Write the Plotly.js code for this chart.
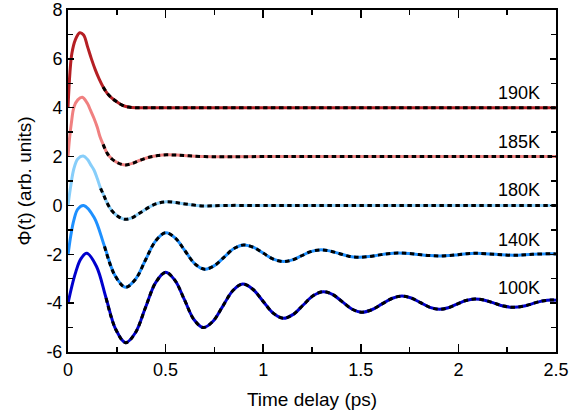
<!DOCTYPE html>
<html>
<head>
<meta charset="utf-8">
<script src="https://cdn.plot.ly/plotly-3.0.1.min.js"></script>
<style>html,body{margin:0;padding:0;background:#fff;}#chart{width:570px;height:413px;}</style>
</head>
<body>
<div id="chart"></div>
<script>
// ---- data ----
const labels = ["190K", "185K", "180K", "140K", "100K"];
const colors = ["#B51F24", "#F08080", "#87CEFA", "#1E90FF", "#0000CD"];

const t190 = [0, 0.01, 0.02, 0.037, 0.06, 0.08, 0.1, 0.12, 0.14, 0.16, 0.18, 0.2, 0.225, 0.25, 0.277, 0.31, 0.35, 0.4, 0.5, 0.7, 1.0, 1.5, 2.0, 2.5];
const y190 = [4.0, 5.45, 6.23, 6.77, 7.07, 6.98, 6.5, 6.0, 5.55, 5.17, 4.85, 4.6, 4.39, 4.24, 4.11, 4.03, 4.0, 4.0, 4.0, 4.0, 4.0, 4.0, 4.0, 4.0];

const t185 = [0, 0.008, 0.017, 0.031, 0.05, 0.073, 0.099, 0.115, 0.133, 0.15, 0.164, 0.18, 0.201, 0.225, 0.253, 0.275, 0.296, 0.33, 0.37, 0.42, 0.46, 0.506, 0.56, 0.62, 0.7, 0.8, 1.0, 1.5, 2.0, 2.5];
const y185 = [2.0, 2.75, 3.36, 4.04, 4.32, 4.43, 4.18, 3.9, 3.57, 3.2, 2.81, 2.5, 2.13, 1.9, 1.75, 1.68, 1.66, 1.72, 1.85, 1.98, 2.04, 2.07, 2.06, 2.03, 2.0, 1.99, 2.0, 2.0, 2.0, 2.0];

const t180 = [0, 0.015, 0.03, 0.05, 0.078, 0.1, 0.115, 0.133, 0.15, 0.167, 0.185, 0.201, 0.225, 0.253, 0.275, 0.296, 0.33, 0.37, 0.42, 0.46, 0.503, 0.55, 0.6, 0.69, 0.8, 1.0, 1.5, 2.0, 2.5];
const y180 = [0.0, 0.85, 1.5, 1.9, 2.02, 1.88, 1.68, 1.45, 1.1, 0.70, 0.38, 0.09, -0.22, -0.43, -0.53, -0.57, -0.5, -0.3, -0.05, 0.09, 0.15, 0.12, 0.06, -0.02, 0.0, 0.0, 0.0, 0.0, 0.0];

const t140 = [0, 0.015, 0.03, 0.05, 0.08, 0.134, 0.187, 0.24, 0.294, 0.346, 0.397, 0.449, 0.5, 0.55, 0.6, 0.65, 0.7, 0.75, 0.8, 0.85, 0.9, 0.951, 1.002, 1.052, 1.103, 1.15, 1.197, 1.243, 1.29, 1.339, 1.389, 1.438, 1.487, 1.538, 1.589, 1.639, 1.69, 1.744, 1.798, 1.852, 1.906, 1.952, 1.998, 2.044, 2.09, 2.19, 2.28, 2.38, 2.48, 2.5];
const y140 = [-2.03, -1.2, -0.6, -0.15, 0.0, -0.49, -1.675, -2.86, -3.35, -3.02, -2.235, -1.45, -1.12, -1.34, -1.865, -2.39, -2.61, -2.465, -2.115, -1.765, -1.62, -1.72, -1.96, -2.2, -2.3, -2.23, -2.06, -1.89, -1.82, -1.86, -1.97, -2.08, -2.12, -2.095, -2.035, -1.975, -1.95, -1.968, -2.01, -2.052, -2.07, -2.054, -2.015, -1.976, -1.96, -2.0, -2.04, -2.0, -1.98, -1.99];

const t100 = [0, 0.02, 0.04, 0.065, 0.096, 0.146, 0.195, 0.245, 0.295, 0.346, 0.397, 0.449, 0.5, 0.548, 0.597, 0.645, 0.693, 0.743, 0.794, 0.845, 0.895, 0.947, 0.999, 1.051, 1.103, 1.154, 1.205, 1.257, 1.308, 1.357, 1.406, 1.456, 1.505, 1.556, 1.607, 1.659, 1.71, 1.758, 1.806, 1.854, 1.902, 1.948, 1.993, 2.039, 2.085, 2.134, 2.183, 2.231, 2.28, 2.33, 2.38, 2.43, 2.48, 2.5];
const y100 = [-4.0, -3.3, -2.72, -2.2, -1.96, -2.5, -3.79, -5.08, -5.62, -5.2, -4.18, -3.16, -2.74, -3.07, -3.87, -4.67, -5.0, -4.74, -4.11, -3.48, -3.22, -3.43, -3.92, -4.41, -4.62, -4.46, -4.075, -3.69, -3.53, -3.65, -3.95, -4.25, -4.37, -4.27, -4.04, -3.81, -3.71, -3.79, -3.98, -4.17, -4.25, -4.19, -4.04, -3.89, -3.83, -3.88, -4.0, -4.12, -4.17, -4.13, -4.02, -3.91, -3.87, -3.88];

const labelPos = [4.59, 2.61, 0.63, -1.41, -3.39];

const xTickVals = [0, 0.5, 1, 1.5, 2, 2.5];
const xTickText = ["0", "0.5", "1", "1.5", "2", "2.5"];
const xMinorVals = [0.25, 0.75, 1.25, 1.75, 2.25];
const yTickVals = [-6, -4, -2, 0, 2, 4, 6, 8];
const yTickText = ["-6", "-4", "-2", "0", "2", "4", "6", "8"];
const yMinorVals = [-5, -3, -1, 1, 3, 5, 7];
const fitStart = 0.165;

// ---- build traces ----
const series = [[t190, y190], [t185, y185], [t180, y180], [t140, y140], [t100, y100]];
const traces = [];
series.forEach((s, i) => {
  traces.push({x: s[0], y: s[1], mode: 'lines', type: 'scatter',
    line: {color: colors[i], width: 3, shape: 'spline', smoothing: 1}, hoverinfo: 'skip'});
});
series.forEach((s, i) => {
  const fx = [], fy = [];
  s[0].forEach((v, k) => { if (v >= fitStart) { fx.push(v); fy.push(s[1][k]); } });
  traces.push({x: fx, y: fy, mode: 'lines', type: 'scatter',
    line: {color: '#000', width: 3, dash: '4.5px,3.5px', shape: 'spline', smoothing: 1}, hoverinfo: 'skip'});
});

const font = {family: 'Liberation Sans, Arial, sans-serif', size: 18, color: '#000'};
const titleFont = {family: 'Liberation Sans, Arial, sans-serif', size: 19, color: '#000'};
const annotations = labels.map((l, i) => ({
  x: 2.43, y: labelPos[i], xref: 'x', yref: 'y', text: l, showarrow: false,
  xanchor: 'right', yanchor: 'middle', font: font
}));

const layout = {
  width: 570, height: 413,
  margin: {l: 68, r: 14, t: 10, b: 61},
  paper_bgcolor: '#fff', plot_bgcolor: '#fff',
  showlegend: false, font: font,
  annotations: annotations,
  xaxis: {
    range: [0, 2.5], tickmode: 'array', tickvals: xTickVals, ticktext: xTickText,
    ticks: 'inside', ticklen: 8, tickwidth: 1.5, tickcolor: '#000',
    showline: true, linecolor: '#000', linewidth: 2, mirror: 'ticks',
    showgrid: false, zeroline: false, tickfont: font,
    minor: {tickmode: 'array', tickvals: xMinorVals, ticks: 'inside', ticklen: 5, tickwidth: 1.5, tickcolor: '#000', showgrid: false},
    title: {text: 'Time delay (ps)', font: titleFont, standoff: 14}
  },
  yaxis: {
    range: [-6, 8], tickmode: 'array', tickvals: yTickVals, ticktext: yTickText,
    ticks: 'inside', ticklen: 6, tickwidth: 1.5, tickcolor: '#000',
    showline: true, linecolor: '#000', linewidth: 2, mirror: 'ticks',
    showgrid: false, zeroline: false, tickfont: font,
    minor: {tickmode: 'array', tickvals: yMinorVals, ticks: 'inside', ticklen: 5, tickwidth: 1.5, tickcolor: '#000', showgrid: false},
    title: {text: 'Φ(t) (arb. units)', font: titleFont, standoff: 10}
  }
};

Plotly.newPlot('chart', traces, layout, {staticPlot: true, displayModeBar: false});
</script>
</body>
</html>
